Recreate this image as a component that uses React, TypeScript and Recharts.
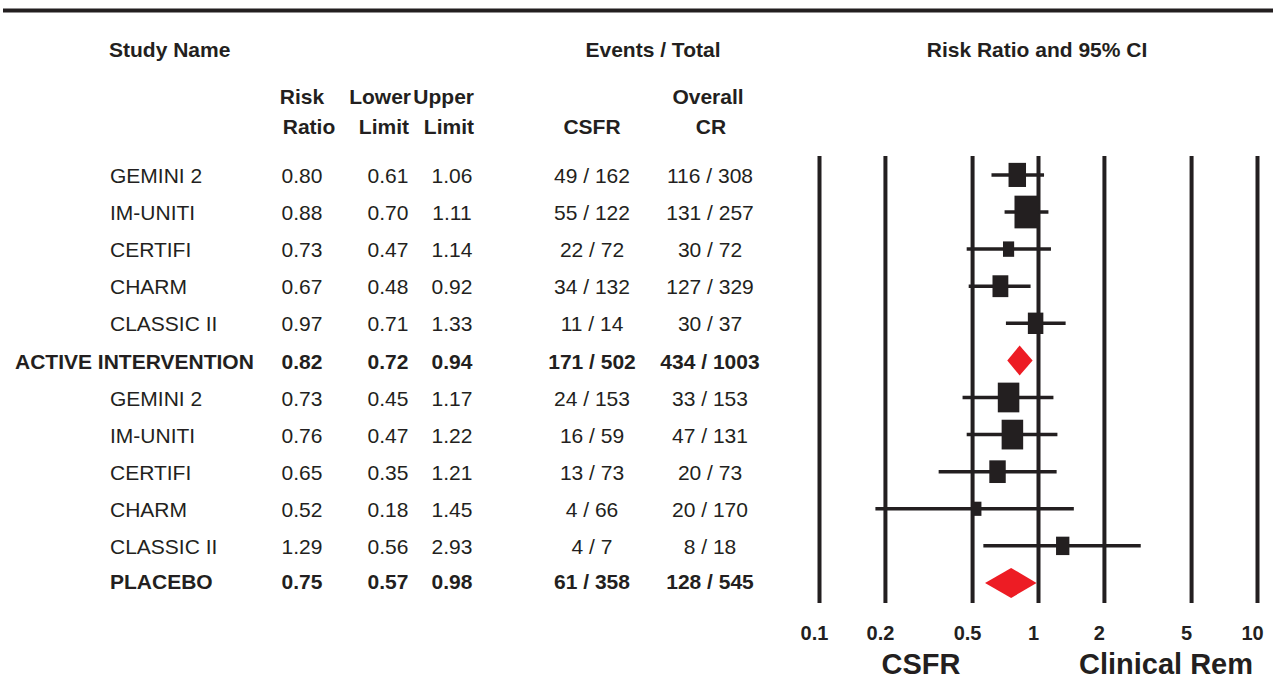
import { Area, ComposedChart, ErrorBar, ReferenceLine, Scatter, XAxis, YAxis } from "recharts";

const INK = "#231f20";
const RED = "#ed1c24";
const FONT = "'Liberation Sans', Arial, Helvetica, sans-serif";

// study level data
const studyNames = ["GEMINI 2", "IM-UNITI", "CERTIFI", "CHARM", "CLASSIC II"];

const activeRR = [0.80, 0.88, 0.73, 0.67, 0.97];
const activeLower = [0.61, 0.70, 0.47, 0.48, 0.71];
const activeUpper = [1.06, 1.11, 1.14, 0.92, 1.33];
const activeCsfr = ["49 / 162", "55 / 122", "22 / 72", "34 / 132", "11 / 14"];
const activeCr = ["116 / 308", "131 / 257", "30 / 72", "127 / 329", "30 / 37"];
const activeWeight = [20.6, 37.9, 8.4, 16.9, 16.2];

const placeboRR = [0.73, 0.76, 0.65, 0.52, 1.29];
const placeboLower = [0.45, 0.47, 0.35, 0.18, 0.56];
const placeboUpper = [1.17, 1.22, 1.21, 1.45, 2.93];
const placeboCsfr = ["24 / 153", "16 / 59", "13 / 73", "4 / 66", "4 / 7"];
const placeboCr = ["33 / 153", "47 / 131", "20 / 73", "20 / 170", "8 / 18"];
const placeboWeight = [31.3, 31.3, 18.2, 7.1, 12.0];

// pooled (summary) rows
const pooledLabels = ["ACTIVE INTERVENTION", "PLACEBO"];
const pooledRR = [0.82, 0.75];
const pooledLower = [0.72, 0.57];
const pooledUpper = [0.94, 0.98];
const pooledCsfr = ["171 / 502", "61 / 358"];
const pooledCr = ["434 / 1003", "128 / 545"];

const axisTicks = [0.1, 0.2, 0.5, 1, 2, 5, 10];

interface Row {
    label: string;
    pooled: boolean;
    rr: number;
    lower: number;
    upper: number;
    csfr: string;
    cr: string;
    weight: number;
}

function groupRows(rr: number[], lo: number[], hi: number[], csfr: string[], cr: string[], w: number[], p: number): Row[] {
    const rows: Row[] = studyNames.map((n, i) => ({
        label: n, pooled: false, rr: rr[i], lower: lo[i], upper: hi[i], csfr: csfr[i], cr: cr[i], weight: w[i],
    }));
    rows.push({
        label: pooledLabels[p], pooled: true, rr: pooledRR[p], lower: pooledLower[p], upper: pooledUpper[p],
        csfr: pooledCsfr[p], cr: pooledCr[p], weight: 0,
    });
    return rows;
}

const rows: Row[] = [
    ...groupRows(activeRR, activeLower, activeUpper, activeCsfr, activeCr, activeWeight, 0),
    ...groupRows(placeboRR, placeboLower, placeboUpper, placeboCsfr, placeboCr, placeboWeight, 1),
];

const studyPoints = rows
    .map((r, i) => ({ ...r, x: r.rr, y: i, err: [r.rr - r.lower, r.upper - r.rr] }))
    .filter(r => !r.pooled);

const DIAMOND_HALF = 0.404;
const diamonds = rows
    .map((r, i) => ({ r, i }))
    .filter(d => d.r.pooled)
    .map(({ r, i }) => [
        { x: r.lower, band: [i, i] },
        { x: r.rr, band: [i - DIAMOND_HALF, i + DIAMOND_HALF] },
        { x: r.upper, band: [i, i] },
    ]);

function WeightBox(props: any) {
    const { cx, cy, payload } = props;
    const w = 3.85 * Math.sqrt(payload.weight);
    const h = w * 1.38;
    return <rect x={cx - w / 2} y={cy - h / 2} width={w} height={h} fill={INK} />;
}

function AxisTick(props: any) {
    const { x, y, payload } = props;
    return (
        <text x={x - 5} y={y + 37} textAnchor="middle" fontFamily={FONT} fontSize={20} fontWeight="bold" fill={INK}>
            {payload.value}
        </text>
    );
}

const ROW0 = 183;
const ROWH = 37.1;
const colRR = 302;
const colLo = 388;
const colHi = 452;
const colCsfr = 592;
const colCr = 710;

function Table() {
    const t = { fontFamily: FONT, fontSize: 21, fill: INK } as const;
    return (
        <svg width={1273} height={681} style={{ position: "absolute", left: 0, top: 0, pointerEvents: "none" }}>
            <line x1={3} x2={1273} y1={10.5} y2={10.5} stroke={INK} strokeWidth={4} />
            <g {...t} fontWeight="bold">
                <text x={109} y={57}>Study Name</text>
                <text x={653} y={57} textAnchor="middle">Events / Total</text>
                <text x={1037} y={57} textAnchor="middle">Risk Ratio and 95% CI</text>
                <text x={302} y={104} textAnchor="middle">Risk</text>
                <text x={309} y={134} textAnchor="middle">Ratio</text>
                <text x={411} y={104} textAnchor="end">Lower</text>
                <text x={409} y={134} textAnchor="end">Limit</text>
                <text x={474} y={104} textAnchor="end">Upper</text>
                <text x={474} y={134} textAnchor="end">Limit</text>
                <text x={592} y={134} textAnchor="middle">CSFR</text>
                <text x={708} y={104} textAnchor="middle">Overall</text>
                <text x={711} y={134} textAnchor="middle">CR</text>
            </g>
            {rows.map((r, i) => {
                const y = ROW0 + ROWH * i - (r.pooled && i > 6 ? 2 : 0);
                const nameX = r.pooled && i < 6 ? 15 : 110;
                return (
                    <g key={i} {...t} fontWeight={r.pooled ? "bold" : "normal"}>
                        <text x={nameX} y={y}>{r.label}</text>
                        <text x={colRR} y={y} textAnchor="middle">{r.rr.toFixed(2)}</text>
                        <text x={colLo} y={y} textAnchor="middle">{r.lower.toFixed(2)}</text>
                        <text x={colHi} y={y} textAnchor="middle">{r.upper.toFixed(2)}</text>
                        <text x={colCsfr} y={y} textAnchor="middle">{r.csfr}</text>
                        <text x={colCr} y={y} textAnchor="middle">{r.cr}</text>
                    </g>
                );
            })}
            <g fontFamily={FONT} fontSize={29} fontWeight="bold" fill={INK} textAnchor="middle">
                <text x={921} y={674}>CSFR</text>
                <text x={1166} y={674}>Clinical Rem</text>
            </g>
        </svg>
    );
}

export default function App() {
    return (
        <div style={{ position: "absolute", left: 0, top: 0, width: 1273, height: 681, background: "#fff" }}>
            <ComposedChart width={1273} height={681} margin={{ top: 156, right: 15.5, bottom: 48, left: 819.5 }}>
                <XAxis
                    type="number"
                    dataKey="x"
                    scale="log"
                    domain={[0.1, 10]}
                    ticks={axisTicks}
                    allowDataOverflow
                    axisLine={false}
                    tickLine={false}
                    tickSize={0}
                    tickMargin={0}
                    height={30}
                    tick={<AxisTick />}
                    interval={0}
                />
                <YAxis type="number" dataKey="y" domain={[-0.51, 11.54]} reversed hide allowDataOverflow />
                {axisTicks.map(v => (
                    <ReferenceLine key={v} x={v} stroke={INK} strokeWidth={4} />
                ))}
                {diamonds.map((d, i) => (
                    <Area
                        key={`dia-${i}`}
                        data={d}
                        dataKey="band"
                        type="linear"
                        stroke="none"
                        fill={RED}
                        fillOpacity={1}
                        dot={false}
                        activeDot={false}
                        isAnimationActive={false}
                    />
                ))}
                <Scatter data={studyPoints} shape={<WeightBox />} isAnimationActive={false}>
                    <ErrorBar dataKey="err" direction="x" width={0} stroke={INK} strokeWidth={3.5} isAnimationActive={false} />
                </Scatter>
            </ComposedChart>
            <Table />
        </div>
    );
}
